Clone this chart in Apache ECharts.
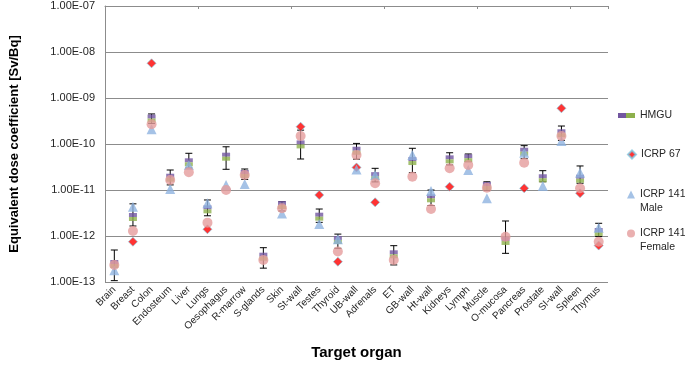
<!DOCTYPE html>
<html>
<head>
<meta charset="utf-8">
<script src="https://cdn.jsdelivr.net/npm/echarts@6/dist/echarts.min.js"></script>
<style>html,body{margin:0;padding:0;background:#fff}#c{width:685px;height:365px}</style>
</head>
<body>
<div id="c"></div>
<script>
const categories = ['Brain','Breast','Colon','Endosteum','Liver','Lungs','Oesophagus','R-marrow','S-glands','Skin','St-wall','Testes','Thyroid','UB-wall','Adrenals','ET','GB-wall','Ht-wall','Kidneys','Lymph','Muscle','O-mucosa','Pancreas','Prostate','SI-wall','Spleen','Thymus'];
const hmgu = [2.46e-13,2.59e-12,3.58e-10,1.85e-11,4.0e-11,3.8e-12,5.3e-11,2.23e-11,3.55e-13,4.72e-12,9.8e-11,2.63e-12,8.2e-13,7.14e-11,2.0e-11,4.0e-13,4.26e-11,6.6e-12,4.64e-11,4.9e-11,1.22e-11,7.8e-13,6.8e-11,1.8e-11,1.71e-10,1.76e-11,1.22e-12];
const hmguHigh = [4.96e-13,5.0e-12,4.5e-10,2.72e-11,6.28e-11,6.07e-12,8.7e-11,2.86e-11,5.57e-13,5.57e-12,2.0e-10,3.86e-12,1.1e-12,1.03e-10,2.96e-11,6.16e-13,8.07e-11,1.0e-11,6.45e-11,6.07e-11,1.51e-11,2.12e-12,9.2e-11,2.63e-11,2.46e-10,3.33e-11,1.89e-12];
const hmguLow = [1.07e-13,1.65e-12,2.8e-10,1.29e-11,3.0e-11,2.75e-12,2.82e-11,1.7e-11,2.0e-13,3.5e-12,4.72e-11,1.98e-12,5.4e-13,4.7e-11,1.5e-11,2.35e-13,2.38e-11,4.6e-12,3.5e-11,4.12e-11,9.7e-12,4.2e-13,4.8e-11,1.51e-11,1.2e-10,1.4e-11,9.7e-13];
const icrp67 = [null,7.5e-13,5.67e-9,null,null,1.4e-12,null,null,null,null,2.38e-10,7.8e-12,2.76e-13,3.1e-11,5.4e-12,null,null,null,1.18e-11,null,null,null,1.09e-11,null,5.97e-10,8.5e-12,6.2e-13];
const icrp141Male = [1.81e-13,4.34e-12,2.09e-10,1.05e-11,3.5e-11,5.13e-12,1.29e-11,1.35e-11,null,3.1e-12,null,1.82e-12,8.5e-13,2.8e-11,2.1e-11,null,5.75e-11,9.5e-12,null,2.72e-11,6.6e-12,null,6.45e-11,1.22e-11,1.16e-10,2.38e-11,1.51e-12];
const icrp141Female = [2.34e-13,1.28e-12,2.68e-10,1.65e-11,2.43e-11,1.95e-12,1.0e-11,2.12e-11,3.0e-13,4.0e-12,1.49e-10,null,4.6e-13,5.75e-11,1.4e-11,3.0e-13,1.95e-11,3.86e-12,2.96e-11,3.5e-11,1.12e-11,9.66e-13,3.92e-11,null,1.49e-10,1.09e-11,7.5e-13];
const yTickLabels = ['1.00E-13','1.00E-12','1.00E-11','1.00E-10','1.00E-09','1.00E-08','1.00E-07'];

const PURPLE = '#7256a0', GREEN = '#8db04c', RED = '#ff0000', BLUE = '#8fb3e0', PINK = '#e59c9c';
const GRID = '#8c8c8c';
const FONT = 'Liberation Sans';
const legendText = {fontSize: 10.5, color: '#262626', fontFamily: FONT};

const chart = echarts.init(document.getElementById('c'), null, {renderer: 'canvas'});
const errData = categories.map((c, i) => [i, hmguLow[i], hmguHigh[i]]);

const option = {
  animation: false,
  grid: {left: 102, right: 77, top: 6, bottom: 83, containLabel: false},
  xAxis: [
    {type: 'category', data: categories, position: 'top', boundaryGap: true,
     axisLine: {show: true, lineStyle: {color: GRID, width: 1}},
     axisTick: {show: true, inside: true, length: 3, lineStyle: {color: GRID}},
     axisLabel: {show: false}, splitLine: {show: false}},
    {type: 'category', data: categories, position: 'bottom', boundaryGap: true,
     axisLine: {show: false}, axisTick: {show: false},
     axisLabel: {interval: 0, rotate: 45, fontSize: 10, color: '#262626', fontFamily: FONT, margin: 6},
     name: 'Target organ', nameLocation: 'middle', nameGap: 63,
     nameTextStyle: {fontSize: 15, fontWeight: 'bold', color: '#000', fontFamily: FONT}}
  ],
  yAxis: {
    type: 'log', logBase: 10, min: 1e-13, max: 1e-7,
    axisLine: {show: true, lineStyle: {color: GRID}},
    axisTick: {show: false},
    splitLine: {show: true, lineStyle: {color: GRID, width: 1}},
    minorTick: {show: false},
    axisLabel: {fontSize: 11, color: '#262626', fontFamily: FONT, margin: 10,
      formatter: v => yTickLabels[Math.round(Math.log10(v)) + 13]},
    name: 'Equivalent dose coefficient [Sv/Bq]', nameLocation: 'middle', nameGap: 84,
    nameTextStyle: {fontSize: 13, fontWeight: 'bold', color: '#000', fontFamily: FONT}
  },
  legend: [
    {data: [{name: 'HMGU', icon: 'rect', itemStyle: {color: new echarts.graphic.LinearGradient(0,0,1,0,[
        {offset: 0, color: PURPLE},{offset: 0.5, color: PURPLE},{offset: 0.5, color: GREEN},{offset: 1, color: GREEN}])}}],
     left: 618, top: 110, padding: 0, itemWidth: 17, itemHeight: 5, selectedMode: false, textStyle: legendText},
    {data: [{name: 'ICRP 67', icon: 'diamond'}], left: 627, top: 149, padding: 0, itemWidth: 8, itemHeight: 8,
     selectedMode: false, textStyle: legendText},
    {data: [{name: 'ICRP 141 Male', icon: 'triangle'}], left: 627, top: 189, padding: 0, itemWidth: 8, itemHeight: 8,
     selectedMode: false, formatter: () => 'ICRP 141', textStyle: legendText},
    {data: [{name: 'ICRP 141 Female', icon: 'circle'}], left: 627, top: 228, padding: 0, itemWidth: 8, itemHeight: 8,
     selectedMode: false, formatter: () => 'ICRP 141', textStyle: legendText}
  ],
  graphic: [
    {type: 'text', left: 640, top: 203, style: {text: 'Male', fontSize: 10.5, fill: '#262626', fontFamily: FONT}},
    {type: 'text', left: 640, top: 242, style: {text: 'Female', fontSize: 10.5, fill: '#262626', fontFamily: FONT}}
  ],
  series: [
    {type: 'custom', name: 'HMGU', z: 1, data: errData, encode: {x: 0, y: [1, 2]},
     renderItem: (params, api) => {
       const lo = api.coord([api.value(0), api.value(1)]);
       const hi = api.coord([api.value(0), api.value(2)]);
       const w = 3.5;
       const st = {stroke: '#000', lineWidth: 1};
       return {type: 'group', children: [
         {type: 'line', shape: {x1: lo[0], y1: lo[1], x2: hi[0], y2: hi[1]}, style: st},
         {type: 'line', shape: {x1: lo[0]-w, y1: lo[1], x2: lo[0]+w, y2: lo[1]}, style: st},
         {type: 'line', shape: {x1: hi[0]-w, y1: hi[1], x2: hi[0]+w, y2: hi[1]}, style: st}
       ]};
     }},
    {type: 'scatter', name: 'HMGU', z: 2, data: hmgu, symbol: 'rect', symbolSize: [8, 4], symbolOffset: [0, -2],
     itemStyle: {color: PURPLE}},
    {type: 'scatter', name: 'HMGU', z: 2, data: hmgu, symbol: 'rect', symbolSize: [8, 4], symbolOffset: [0, 2],
     itemStyle: {color: GREEN}},
    {type: 'scatter', name: 'ICRP 67', z: 3, data: icrp67, symbol: 'diamond', symbolSize: 9,
     itemStyle: {color: RED, borderColor: '#7fc6de', borderWidth: 0.8}},
    {type: 'scatter', name: 'ICRP 141 Male', z: 4, data: icrp141Male, symbol: 'triangle', symbolSize: 10,
     itemStyle: {color: BLUE}},
    {type: 'scatter', name: 'ICRP 141 Female', z: 5, data: icrp141Female, symbol: 'circle', symbolSize: 10,
     itemStyle: {color: PINK}}
  ]
};
chart.setOption(option);
</script>
</body>
</html>
